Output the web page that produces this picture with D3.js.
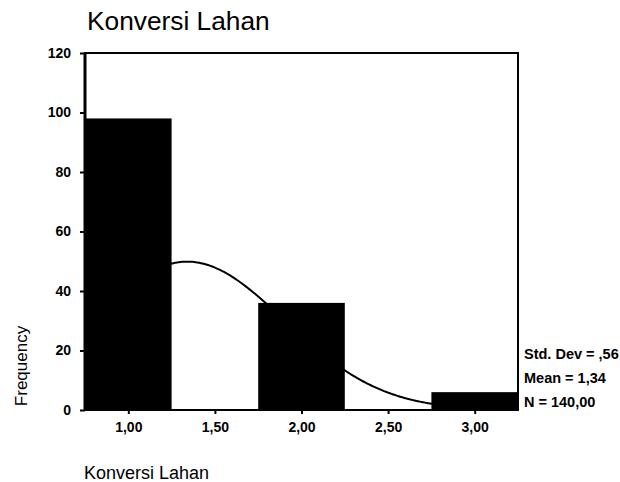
<!DOCTYPE html>
<html><head><meta charset="utf-8">
<script src="https://cdn.jsdelivr.net/npm/d3@7"></script>
<style>body{margin:0;background:#fff;} text{font-family:Arial,"Liberation Sans",sans-serif;}</style>
</head><body>
<svg id="c" width="620" height="482"></svg>
<script>
const categories = [1.00, 2.00, 3.00];
const frequencies = [98, 36, 6];
const yTicks = [0, 20, 40, 60, 80, 100, 120];
const xTicks = [1.00, 1.50, 2.00, 2.50, 3.00];
const stats = {stdDev: 0.56, mean: 1.34, n: 140};
const statLabels = ["Std. Dev = ,56", "Mean = 1,34", "N = 140,00"];
const binWidth = 0.5;

const svg = d3.select("#c");
const L = 85, R = 518, T = 53, B = 410;
const x = d3.scaleLinear().domain([0.75, 3.25]).range([L, R]);
const y = d3.scaleLinear().domain([0, 120]).range([B, T]);
const fmt = v => d3.format(".2f")(v).replace(".", ",");
const FF = "Arial, 'Liberation Sans', sans-serif";

svg.append("text").attr("x", 87).attr("y", 30).attr("font-size", 26.3).text("Konversi Lahan");

// bars
svg.selectAll("rect.bar").data(categories).enter().append("rect")
  .attr("x", d => x(d - binWidth/2)).attr("width", d => x(d + binWidth/2) - x(d - binWidth/2))
  .attr("y", (d,i) => y(frequencies[i])).attr("height", (d,i) => y(0) - y(frequencies[i]))
  .attr("fill", "#000");

// normal curve from displayed stats
const pts = d3.range(0.75, 3.2501, 0.01).map(v => [v,
  stats.n * binWidth / (stats.stdDev * Math.sqrt(2*Math.PI)) * Math.exp(-Math.pow(v - stats.mean, 2) / (2*stats.stdDev*stats.stdDev))]);
svg.append("path").datum(pts)
  .attr("d", d3.line().x(d => x(d[0])).y(d => y(d[1])).curve(d3.curveBasis))
  .attr("fill", "none").attr("stroke", "#000").attr("stroke-width", 2);

// frame
svg.append("rect").attr("x", L).attr("y", T).attr("width", R-L).attr("height", B-T)
  .attr("fill", "none").attr("stroke", "#000").attr("stroke-width", 2);
svg.append("line").attr("x1", L).attr("x2", L).attr("y1", T).attr("y2", B)
  .attr("stroke", "#000").attr("stroke-width", 3);

// y axis
const ya = svg.append("g").attr("transform", `translate(${L},0)`)
  .call(d3.axisLeft(y).tickValues(yTicks).tickSize(5).tickPadding(9).tickFormat(d3.format("d")));
ya.select(".domain").remove();
ya.selectAll("line").attr("stroke-width", 2);
ya.selectAll("text").attr("font-size", 14).attr("font-weight", "bold").attr("font-family", FF);

// x axis
const xa = svg.append("g").attr("transform", `translate(0,${B})`)
  .call(d3.axisBottom(x).tickValues(xTicks).tickSize(4).tickPadding(8).tickFormat(fmt));
xa.select(".domain").remove();
xa.selectAll("line").attr("stroke-width", 2);
xa.selectAll("text").attr("font-size", 14).attr("font-weight", "bold").attr("font-family", FF);

svg.append("text").attr("transform", "translate(27,366) rotate(-90)").attr("text-anchor", "middle")
  .attr("font-size", 17).text("Frequency");
svg.append("text").attr("x", 84).attr("y", 479).attr("font-size", 18).text("Konversi Lahan");

svg.selectAll("text.stat").data(statLabels).enter().append("text")
  .attr("x", 524).attr("y", (d,i) => 359 + i*24).attr("font-size", 14.5).attr("font-weight", "bold").text(d => d);
</script>
</body></html>
